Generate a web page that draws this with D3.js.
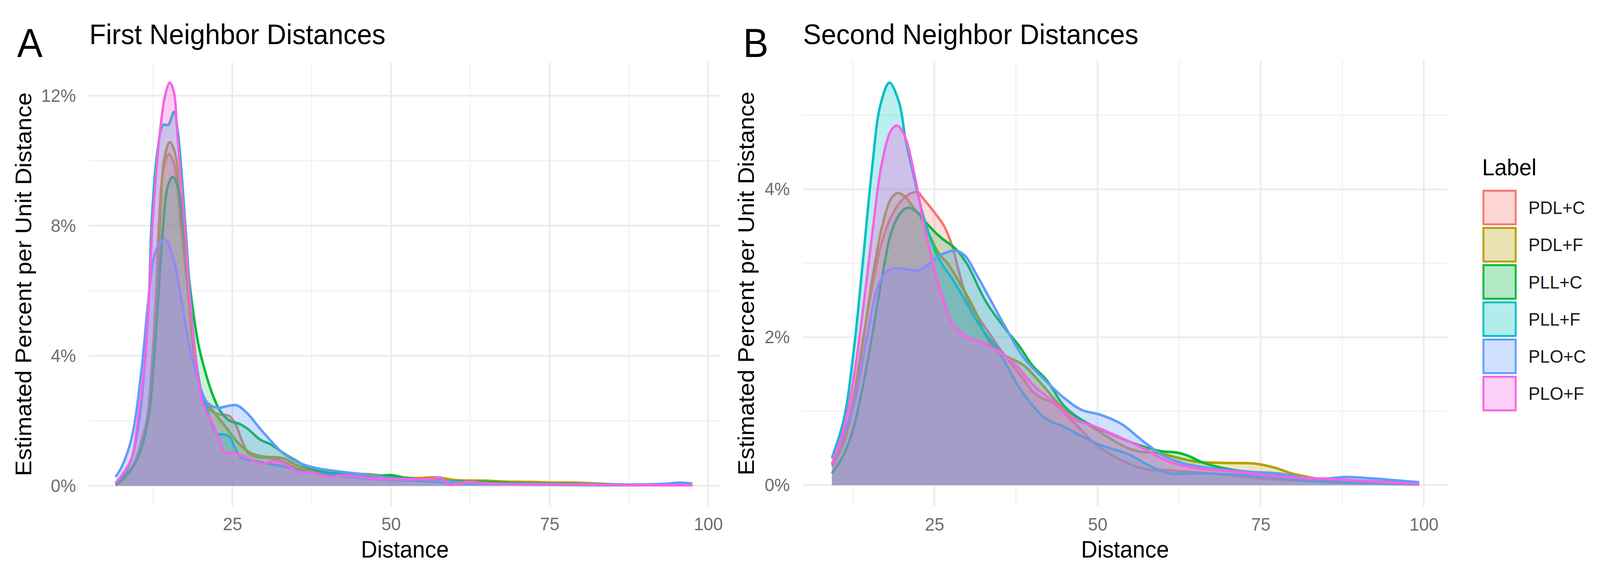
<!DOCTYPE html>
<html>
<head>
<meta charset="utf-8">
<script src="https://cdn.jsdelivr.net/npm/d3@7"></script>
<style>
  html, body { margin: 0; padding: 0; background: #fff; overflow: hidden; }
  text { font-family: "Liberation Sans", Arial, Helvetica, sans-serif; }
</style>
</head>
<body>
<div id="chart"></div>
<script>
let labels = ['PDL+C', 'PDL+F', 'PLL+C', 'PLL+F', 'PLO+C', 'PLO+F']
let colors = ['#F8766D', '#B79F00', '#00BA38', '#00BFC4', '#619CFF', '#F564E3']
// fill strength of each density layer in the panels (tuned to the overlap colour)
let layerAlpha = [0.25, 0.25, 0.2, 0.27, 0.3, 0.33]

// first neighbor densities, [distance, percent per unit]
let firstPDLC = [[6.6,0.05],[8,0.25],[9.7,0.77],[10.8,1.5],[11.5,2],[12.4,4],[13,6],[13.4,8],[14.2,9.8],[15,10.2],[15.8,9.9],[16.9,8],[18,6],[19,4],[20.2,2.8],[21.7,2.3],[23,2.2],[24.5,2.15],[25.5,1.9],[26.5,1.4],[27.5,1.0],[29,0.88],[31,0.85],[33,0.75],[35,0.55],[37,0.45],[40,0.36],[43,0.32],[46,0.3],[50,0.26],[54,0.22],[58,0.18],[62,0.12],[66,0.08],[70,0.06],[75,0.05],[80,0.04],[85,0.03],[90,0.03],[97.5,0.02]]
let firstPDLF = [[6.6,0.04],[8,0.22],[9.8,0.77],[11.6,2],[12.5,4],[13.2,6],[13.6,8],[14.3,10.1],[15.15,10.57],[16,10.2],[17,8],[18.1,6],[19.1,4],[20.3,2.8],[22,2.3],[24,1.8],[26,1.3],[28,1.0],[30,0.9],[33,0.85],[35,0.65],[38,0.45],[42,0.35],[46.6,0.36],[50,0.28],[54,0.24],[57.3,0.26],[60,0.18],[64.6,0.16],[68,0.13],[71.8,0.12],[76,0.1],[79,0.1],[85,0.05],[90,0.03],[97.5,0.02]]
let firstPLLC = [[6.6,0.02],[7.2,0.12],[8.5,0.4],[9.9,0.77],[11.7,2],[12.7,4],[13.4,6],[14.1,8],[14.8,9.2],[15.6,9.5],[16.4,9.2],[17.3,8],[18.4,6],[19.6,4.4],[20.6,3.6],[21.9,2.8],[23.1,2.3],[24.6,2.0],[26.2,1.9],[27.5,1.74],[29.4,1.42],[31,1.28],[33.5,0.95],[35,0.78],[37.4,0.52],[40.3,0.4],[43,0.36],[45.1,0.32],[48,0.3],[50,0.33],[52.4,0.24],[55,0.2],[57.3,0.18],[59.2,0.14],[64.6,0.12],[70,0.08],[75,0.06],[85,0.04],[97.5,0.02]]
let firstPLLF = [[6.6,0.1],[7.5,0.25],[9,0.77],[10.3,2],[11.3,4],[11.9,6],[12.25,8],[13.2,10.3],[14.1,11.1],[14.9,11.1],[15.8,11.5],[16.4,10.9],[17.6,8],[18.3,6],[19.2,4],[20.2,2.8],[20.9,2.4],[21.8,1.9],[22.6,1.6],[23.8,1.58],[24.6,1.5],[25.4,1.17],[26.5,0.85],[28.5,0.77],[30.4,0.69],[33,0.6],[36,0.45],[40,0.35],[45,0.25],[50,0.18],[55,0.15],[60,0.08],[65,0.06],[75,0.03],[85,0.02],[97.5,0.02]]
let firstPLOC = [[6.6,0.28],[7.6,0.6],[9.16,1.5],[10.7,3.6],[11.7,5.6],[12.6,7.0],[13.5,7.45],[14.4,7.57],[15.7,7.0],[16.9,5.8],[17.85,4.7],[18.8,3.8],[20,3.0],[21.1,2.55],[22.7,2.4],[24.6,2.47],[25.8,2.47],[27.4,2.22],[29.5,1.73],[31.7,1.25],[33,1.0],[35.4,0.72],[37.9,0.56],[42.7,0.42],[45.6,0.36],[50,0.24],[55,0.2],[60,0.12],[65,0.08],[70,0.06],[80,0.05],[88,0.04],[93,0.06],[95.5,0.1],[97.5,0.07]]
let firstPLOF = [[6.6,0.08],[8.2,0.5],[9.2,0.9],[10.1,2],[11.3,4],[11.9,6],[12.4,8],[13.6,10.9],[14.4,12],[15.15,12.4],[15.8,12.1],[16.3,10.9],[17.5,8],[18.2,6],[19.2,4],[20,2.8],[20.8,2.3],[21.7,2],[23.1,1.34],[23.7,1.05],[25.6,1],[27.5,0.85],[29.6,0.68],[31.4,0.77],[32.5,0.74],[35.4,0.44],[37.9,0.4],[40.3,0.28],[42,0.32],[44.2,0.3],[47.6,0.22],[52.4,0.2],[56.8,0.22],[57.8,0.26],[59.2,0.04],[62,0.12],[66,0.06],[72,0.04],[80,0.03],[90,0.02],[97.5,0.02]]

// second neighbor densities
let secondPDLC = [[9.3,0.3],[11,0.62],[12.6,1.2],[14,1.95],[15.5,2.7],[17,3.3],[18.5,3.65],[20,3.85],[21.5,3.95],[22.5,3.96],[23.05,3.9],[24.8,3.71],[26.5,3.5],[27.7,3.24],[28.9,2.84],[30,2.52],[31.8,2.26],[33.5,2.04],[35.8,1.75],[38.7,1.43],[40.2,1.25],[41.6,1.17],[43.1,1.12],[46,0.88],[50.5,0.5],[56.75,0.23],[60.9,0.2],[67.2,0.16],[75.5,0.09],[83.8,0.05],[99.3,0.01]]
let secondPDLF = [[9.3,0.25],[11,0.55],[12.6,1.1],[14,1.9],[15.5,2.8],[17,3.5],[18.4,3.88],[19.4,3.95],[20.5,3.9],[21.8,3.75],[22.8,3.64],[24.2,3.39],[25.7,3.13],[27.1,2.99],[28.9,2.73],[31,2.4],[33,2.0],[34.7,1.8],[36.5,1.72],[38.7,1.62],[41.6,1.35],[44.6,1.05],[47.5,0.88],[50,0.74],[52.5,0.6],[54.7,0.5],[56.75,0.45],[58.8,0.44],[61,0.4],[65,0.32],[70,0.3],[74.25,0.29],[77,0.24],[79.7,0.16],[81.75,0.12],[85,0.07],[90,0.04],[99.3,0.01]]
let secondPLLC = [[9.3,0.16],[11.1,0.41],[12.6,0.77],[14,1.32],[15.5,2.04],[16.9,2.77],[18.4,3.42],[19.8,3.68],[21,3.75],[22.5,3.68],[23.9,3.53],[25.95,3.35],[28.3,3.19],[30,2.99],[32.9,2.48],[35.8,2.12],[38,1.88],[40,1.62],[42.2,1.42],[44.6,1.1],[46,0.98],[48.4,0.84],[52.6,0.67],[56.75,0.53],[59.7,0.46],[62.2,0.44],[63.8,0.4],[66.3,0.3],[70.5,0.21],[75.5,0.16],[81.75,0.1],[88,0.07],[99.3,0.02]]
let secondPLLF = [[9.3,0.37],[11.1,0.88],[12.6,1.79],[14,2.99],[15.5,4.33],[16.7,5.13],[18.1,5.44],[19.6,5.17],[20.6,4.66],[21.9,4.15],[23.3,3.64],[24.5,3.31],[25.7,3.06],[28,2.75],[30,2.45],[32,2.15],[34.7,1.83],[38,1.32],[40.2,1.06],[42.2,0.89],[44.6,0.8],[46.3,0.72],[50.5,0.54],[54.7,0.42],[57.6,0.28],[60.9,0.16],[65,0.16],[71.3,0.14],[77.6,0.1],[83.8,0.05],[99.3,0.01]]
let secondPLOC = [[9.3,0.36],[11,0.7],[12.6,1.06],[14.6,1.97],[16.4,2.7],[17.8,2.9],[19.3,2.93],[21.3,2.91],[22.5,2.9],[24.2,2.99],[25.7,3.1],[28.3,3.17],[29.7,3.1],[31.5,2.84],[33.5,2.52],[35.8,2.15],[38.7,1.72],[41.6,1.45],[44.6,1.2],[47.5,1.02],[50.5,0.95],[53.8,0.82],[56.75,0.61],[60.1,0.4],[63,0.3],[67.2,0.23],[73.4,0.18],[77.6,0.16],[81.75,0.1],[85,0.09],[88,0.11],[92.2,0.09],[99.3,0.04]]
let secondPLOF = [[9.3,0.28],[11.1,0.77],[12.6,1.43],[14,2.33],[15.5,3.42],[16.9,4.33],[18.4,4.8],[19.3,4.86],[20.4,4.73],[21.9,4.22],[23.3,3.57],[24.8,2.99],[26.3,2.52],[27.7,2.19],[30,2.0],[32.4,1.93],[34.4,1.83],[37.3,1.64],[40.2,1.35],[43.1,1.14],[46.3,0.9],[49.7,0.79],[52.6,0.68],[56.75,0.51],[60.9,0.32],[65.1,0.23],[71.3,0.18],[77.6,0.12],[83.8,0.09],[92.2,0.05],[99.3,0.01]]

let firstSeries = [firstPDLC, firstPDLF, firstPLLC, firstPLLF, firstPLOC, firstPLOF]
let secondSeries = [secondPDLC, secondPDLF, secondPLLC, secondPLLF, secondPLOC, secondPLOF]

let xTicks = [25, 50, 75, 100]
let xMinor = [12.5, 37.5, 62.5, 87.5]
let firstYTicks = [0, 4, 8, 12]
let firstYMinor = [2, 6, 10]
let secondYTicks = [0, 2, 4]
let secondYMinor = [1, 3, 5]

// drawing is laid out in a 4317 x 1465 frame and scaled to the viewport
let W = 4317, H = 1465
let svg = d3.select('#chart')
    .append('svg')
    .attr('width', window.innerWidth || W)
    .attr('height', window.innerHeight || H)
    .attr('viewBox', `0 0 ${W} ${H}`)
    .attr('preserveAspectRatio', 'none')
    .style('display', 'block')

svg.append('rect').attr('width', W).attr('height', H).attr('fill', '#fff')

function panel(opt) {
    let x = d3.scaleLinear().domain(opt.xDomain).range([opt.left, opt.right])
    let y = d3.scaleLinear().domain(opt.yDomain).range([opt.bottom, opt.top])
    let g = svg.append('g')

    // grid: minor first, then major
    g.selectAll('.yMinor').data(opt.yMinor).enter().append('line')
        .attr('x1', opt.left).attr('x2', opt.right)
        .attr('y1', d => y(d)).attr('y2', d => y(d))
        .attr('stroke', '#EFEFEF').attr('stroke-width', 2.5)
    g.selectAll('.xMinor').data(xMinor).enter().append('line')
        .attr('y1', opt.top).attr('y2', opt.bottom)
        .attr('x1', d => x(d)).attr('x2', d => x(d))
        .attr('stroke', '#EFEFEF').attr('stroke-width', 2.5)
    g.selectAll('.yMajor').data(opt.yTicks).enter().append('line')
        .attr('x1', opt.left).attr('x2', opt.right)
        .attr('y1', d => y(d)).attr('y2', d => y(d))
        .attr('stroke', '#EBEBEB').attr('stroke-width', 4.5)
    g.selectAll('.xMajor').data(xTicks).enter().append('line')
        .attr('y1', opt.top).attr('y2', opt.bottom)
        .attr('x1', d => x(d)).attr('x2', d => x(d))
        .attr('stroke', '#EBEBEB').attr('stroke-width', 4.5)

    let curve = d3.curveCatmullRom.alpha(0.5)
    let area = d3.area()
        .x(d => x(d[0]))
        .y0(y(0))
        .y1(d => y(Math.max(0, d[1])))
        .curve(curve)
    let line = d3.line()
        .x(d => x(d[0]))
        .y(d => y(Math.max(0, d[1])))
        .curve(curve)

    // each group: fill then its outline, in label order
    opt.series.forEach((s, i) => {
        g.append('path').attr('d', area(s))
            .attr('fill', colors[i]).attr('fill-opacity', layerAlpha[i])
        g.append('path').attr('d', line(s))
            .attr('fill', 'none').attr('stroke', colors[i])
            .attr('stroke-width', 6.5).attr('stroke-linejoin', 'round')
    })

    let yAxis = d3.axisLeft(y)
        .tickValues(opt.yTicks)
        .tickFormat(d => d + '%')
        .tickSize(0)
        .tickPadding(35)
    let ya = g.append('g')
        .attr('transform', `translate(${opt.left},0)`)
        .call(yAxis)
    ya.select('.domain').remove()
    ya.selectAll('text').attr('font-size', 47).attr('fill', '#6E6E6E')
        .style('font-family', '"Liberation Sans", Arial, sans-serif')

    let xAxis = d3.axisBottom(x)
        .tickValues(xTicks)
        .tickSize(0)
        .tickPadding(29)
    let xa = g.append('g')
        .attr('transform', `translate(0,${opt.bottom})`)
        .call(xAxis)
    xa.select('.domain').remove()
    xa.selectAll('text').attr('font-size', 47).attr('fill', '#6E6E6E')
        .style('font-family', '"Liberation Sans", Arial, sans-serif')

    g.append('text')
        .attr('x', (opt.left + opt.right) / 2)
        .attr('y', 1428)
        .attr('text-anchor', 'middle')
        .attr('font-size', 61)
        .attr('fill', '#000')
        .text('Distance')

    g.append('text')
        .attr('transform', `translate(${opt.yTitleX},${(opt.top + opt.bottom) / 2}) rotate(-90)`)
        .attr('text-anchor', 'middle')
        .attr('font-size', 61)
        .attr('fill', '#000')
        .text('Estimated Percent per Unit Distance')

    g.append('text')
        .attr('x', opt.left + 1)
        .attr('y', 113)
        .attr('font-size', 73)
        .attr('fill', '#000')
        .text(opt.title)

    g.append('text')
        .attr('x', opt.tagX)
        .attr('y', 146)
        .attr('font-size', 103)
        .attr('fill', '#000')
        .text(opt.tag)
}

panel({
    series: firstSeries,
    xDomain: [2.4, 102], left: 240, right: 1945,
    yDomain: [-0.62, 13.02], bottom: 1296, top: 160,
    yTicks: firstYTicks, yMinor: firstYMinor,
    yTitleX: 84, title: 'First Neighbor Distances', tag: 'A', tagX: 46
})

panel({
    series: secondSeries,
    xDomain: [4.83, 103.6], left: 2166, right: 3905,
    yDomain: [-0.287, 5.74], bottom: 1297, top: 155,
    yTicks: secondYTicks, yMinor: secondYMinor,
    yTitleX: 2034, title: 'Second Neighbor Distances', tag: 'B', tagX: 2005
})

// legend
let legend = svg.append('g')
legend.append('text')
    .attr('x', 3999).attr('y', 449)
    .attr('font-size', 60).attr('fill', '#000')
    .text('Label')

let keyStep = 95.3
let keys = legend.selectAll('.key').data(labels).enter().append('g')
    .attr('transform', (d, i) => `translate(0,${486 + i * keyStep})`)
keys.append('rect')
    .attr('x', 4002.5).attr('y', 2.5)
    .attr('width', 87).attr('height', 86)
    .attr('fill', (d, i) => colors[i]).attr('fill-opacity', 0.3)
    .attr('stroke', (d, i) => colors[i]).attr('stroke-width', 5)
keys.append('text')
    .attr('x', 4124).attr('y', 62)
    .attr('font-size', 47).attr('fill', '#1A1A1A')
    .text(d => d)
</script>
</body>
</html>
